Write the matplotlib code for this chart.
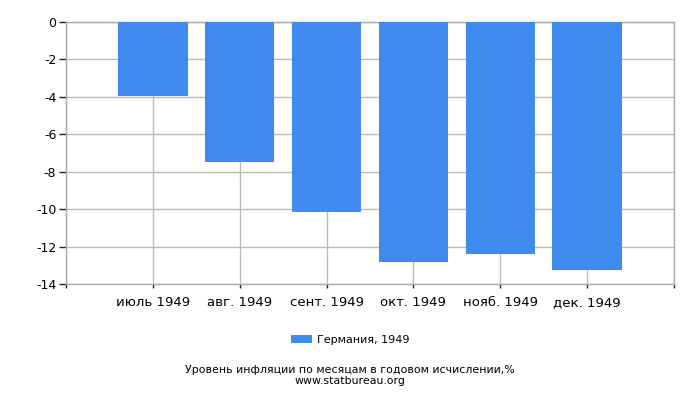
import matplotlib
matplotlib.use("Agg")
import matplotlib.pyplot as plt
import numpy as np

categories = ["июль 1949", "авг. 1949", "сент. 1949", "окт. 1949", "нояб. 1949", "дек. 1949"]
values = [-3.93, -7.47, -10.16, -12.84, -12.41, -13.27]
series_name = "Германия, 1949"
y_ticks = [0, -2, -4, -6, -8, -10, -12, -14]
title = "Уровень инфляции по месяцам в годовом исчислении,%"
source = "www.statbureau.org"

plt.rcParams['font.family'] = ['DejaVu Sans']
fig = plt.figure(figsize=(7, 4), dpi=100)
ax = fig.add_axes([66/700, 1-284/400, (674-66)/700, (284-22)/400])

x = np.arange(1, len(categories) + 1)
ax.bar(x, values, width=0.8, color="#418bee", zorder=3, label=series_name)

ax.set_xlim(0, len(categories) + 1)
ax.set_ylim(-14, 0)
ax.set_xticks(np.arange(0, len(categories) + 2))
ax.set_xticklabels([""] + categories + [""], fontsize=9.5)
ax.set_yticks(y_ticks)
ax.set_yticklabels([str(t) for t in y_ticks], fontsize=9)
ax.grid(True, color="#bbbbbb", linewidth=1, zorder=0)
for s in ax.spines.values():
    s.set_color("#aaaaaa")
    s.set_linewidth(1)
ax.tick_params(axis="y", length=5, width=1, color="#222222", pad=2)
ax.tick_params(axis="x", length=3, width=1, color="#222222", pad=6)

handles, labels = ax.get_legend_handles_labels()
fig.legend(handles, labels, loc="center", bbox_to_anchor=(0.5, 1-340/400), frameon=False,
           fontsize=8, handlelength=1.9, handleheight=0.75, handletextpad=0.45)
fig.text(0.5, 1-370/400, title, ha="center", va="center", fontsize=7.9)
fig.text(0.5, 1-381.5/400, source, ha="center", va="center", fontsize=7.9)

fig.savefig("out.png", dpi=100)
